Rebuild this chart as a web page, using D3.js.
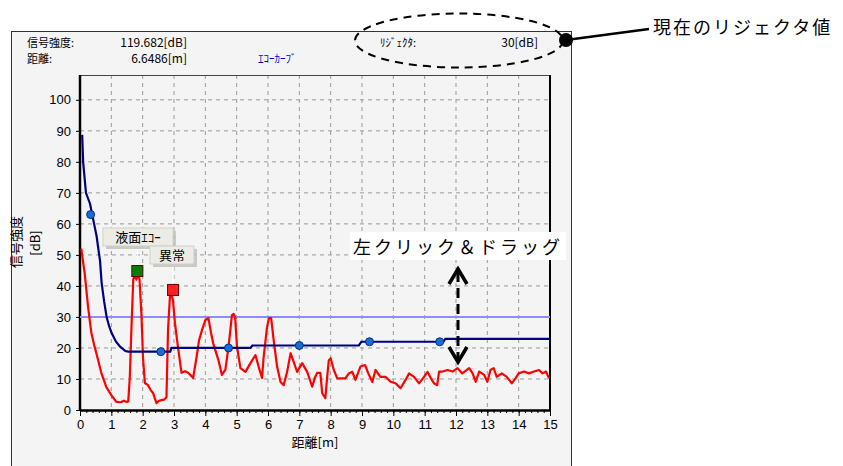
<!DOCTYPE html>
<html>
<head>
<meta charset="utf-8">
<script src="https://cdn.jsdelivr.net/npm/d3@7"></script>
<style>
  body { margin: 0; background: #fff; }
  svg { display: block; font-family: "Liberation Sans", Arial, sans-serif; }
  .jp { font-family: "Noto Sans CJK JP", sans-serif; }
</style>
</head>
<body>
<div id="chart"></div>
<script>
// エコーカーブ（信号強度 vs 距離）
const redX = [0.04, 0.15, 0.26, 0.36, 0.45, 0.52, 0.68, 0.84, 1.0, 1.16, 1.3, 1.4, 1.5, 1.54, 1.59, 1.64, 1.7, 1.75, 1.8, 1.86, 1.9, 1.96, 2.01, 2.07, 2.17, 2.25, 2.33, 2.44, 2.52, 2.6, 2.7, 2.76, 2.81, 2.87, 2.92, 2.97, 3.03, 3.13, 3.24, 3.35, 3.45, 3.55, 3.61, 3.72, 3.8, 3.9, 4.0, 4.1, 4.18, 4.25, 4.42, 4.53, 4.64, 4.74, 4.85, 4.9, 4.95, 5.01, 5.12, 5.28, 5.44, 5.6, 5.7, 5.81, 5.86, 5.97, 6.03, 6.1, 6.18, 6.29, 6.4, 6.5, 6.61, 6.72, 6.82, 6.93, 7.09, 7.25, 7.41, 7.5, 7.57, 7.67, 7.73, 7.83, 7.89, 7.94, 8.0, 8.1, 8.21, 8.35, 8.47, 8.58, 8.69, 8.79, 8.95, 9.1, 9.2, 9.33, 9.43, 9.59, 9.75, 9.91, 10.07, 10.23, 10.39, 10.5, 10.66, 10.82, 10.98, 11.09, 11.2, 11.3, 11.4, 11.46, 11.57, 11.73, 11.89, 12.05, 12.2, 12.42, 12.53, 12.63, 12.74, 12.9, 13.0, 13.1, 13.2, 13.3, 13.46, 13.62, 13.78, 13.9, 14.0, 14.17, 14.33, 14.49, 14.65, 14.76, 14.87, 14.97];
const redY = [52, 44, 33, 25, 21, 18.4, 12, 7.4, 4.8, 2.6, 2.5, 3, 2.6, 2.8, 10.7, 26, 42, 43.5, 42, 44, 42, 31, 17, 8.7, 8, 6.5, 5.5, 2.2, 3, 3.2, 3.4, 4.2, 26, 36.5, 37.5, 35, 28, 20, 12, 12.5, 12, 11, 10.3, 17, 22.5, 26, 29, 29.6, 25, 21.5, 16, 11.3, 13, 20.4, 30.6, 31, 30, 20.4, 13.5, 12.3, 15.1, 17.7, 14, 10.3, 17, 26.8, 29.6, 29.6, 22.6, 14, 9, 8, 12.3, 18.3, 15.5, 12.3, 15.1, 12.3, 7.5, 10.5, 12, 12, 5.4, 3.8, 10.8, 16, 16.7, 12.9, 10.2, 10.2, 10.2, 11.8, 12.3, 9.7, 14, 14.5, 11.8, 9, 12.9, 10.7, 10.7, 9.1, 8.6, 7, 9.7, 11.8, 10.7, 8.6, 10.7, 12.3, 10.2, 8.6, 8, 12.4, 12.4, 12.9, 12.4, 13.5, 11.8, 13.5, 11.8, 9.1, 12.4, 11.3, 9.1, 12.9, 13.5, 10.7, 11.8, 10.7, 8.6, 10.2, 11.8, 12.4, 11.8, 12.4, 12.9, 11.8, 12.4, 10.2];

// 判定カーブ（紺）
const navyX = [0.07, 0.1, 0.19, 0.32, 0.45, 0.53, 0.64, 0.69, 0.77, 0.85, 0.93, 1.01, 1.15, 1.28, 1.45, 1.54, 2.88, 2.92, 5.44, 5.5, 8.9, 8.98, 11.6, 11.66, 15];
const navyY = [88.7, 80, 70, 66.5, 60, 56, 48, 41, 35, 30, 27, 24.8, 22, 20.4, 19, 18.8, 18.8, 20, 20, 20.8, 20.8, 22, 22, 22.9, 22.9];
const nodeX = [0.34, 2.58, 4.74, 7.0, 9.24, 11.48];
const nodeY = [63, 18.8, 20, 20.8, 22, 22];

const rejector = 30;
const peakLabels = ['液面ｴｺｰ', '異常'];
const peakX = [1.83, 2.97];
const peakY = [44.8, 38.7];
const peakColors = ['#008000', '#ff2020'];

const xTicks = d3.range(0, 16, 1);
const yTicks = d3.range(0, 101, 10);

const W = 843, H = 466;
const svg = d3.select('#chart').append('svg').attr('width', W).attr('height', H);

const x = d3.scaleLinear().domain([0, 15]).range([80, 550]);
const y = d3.scaleLinear().domain([0, 108]).range([410, 75]);

// パネル
svg.append('rect')
    .attr('x', 11.5).attr('y', 31.5)
    .attr('width', 560).attr('height', 450)
    .attr('fill', '#f4f4f4')
    .attr('stroke', '#333');

// ヘッダー
const head = svg.append('g').attr('class', 'jp').style('font-size', '11px').attr('fill', '#000');
head.append('text').attr('x', 27).attr('y', 46.5).text('信号強度:');
head.append('text').attr('x', 187).attr('y', 46.5).attr('text-anchor', 'end').style('font-size', '12px').text('119.682[dB]');
head.append('text').attr('x', 27).attr('y', 63).text('距離:');
head.append('text').attr('x', 187).attr('y', 63).attr('text-anchor', 'end').style('font-size', '12px').text('6.6486[m]');
head.append('text').attr('x', 258).attr('y', 63).attr('fill', '#0000cc').text('ｴｺｰｶｰﾌﾞ');
head.append('text').attr('x', 380).attr('y', 46.5).text('ﾘｼﾞｪｸﾀ:');
head.append('text').attr('x', 538).attr('y', 46.5).attr('text-anchor', 'end').style('font-size', '12px').text(rejector + '[dB]');

// グリッド
const grid = svg.append('g')
    .attr('stroke', '#999')
    .attr('stroke-dasharray', '4,4');
grid.selectAll('.vg').data(xTicks.slice(1, -1)).join('line')
    .attr('x1', d => x(d)).attr('x2', d => x(d))
    .attr('y1', y.range()[1]).attr('y2', y(0));
grid.selectAll('.hg').data(yTicks.slice(1)).join('line')
    .attr('x1', x(0)).attr('x2', x(15))
    .attr('y1', d => y(d)).attr('y2', d => y(d));

// 枠
svg.append('line').attr('x1', x(0)).attr('x2', x(15)).attr('y1', 75.5).attr('y2', 75.5)
    .attr('stroke', '#444');
svg.append('line').attr('x1', x(15)).attr('x2', x(15)).attr('y1', 75).attr('y2', y(0))
    .attr('stroke', '#000').attr('stroke-width', 2);

// 軸
const xAxis = svg.append('g')
    .attr('transform', `translate(0,${y(0)})`)
    .call(d3.axisBottom(x).tickValues(xTicks).tickSize(6).tickSizeOuter(0).tickPadding(4));
svg.append('g')
    .attr('transform', `translate(0,${y(0)})`)
    .call(d3.axisBottom(x).tickValues(d3.range(0, 15.01, 0.2)).tickSize(3).tickFormat(''))
    .call(g => g.select('.domain').remove());
const yAxis = svg.append('g')
    .attr('transform', `translate(${x(0)},0)`)
    .call(d3.axisLeft(y).tickValues(yTicks).tickSize(4).tickSizeOuter(0).tickPadding(5));

[xAxis, yAxis].forEach(a => {
    a.select('.domain').attr('stroke-width', 2.5);
    a.selectAll('text').style('font-size', '13px').attr('fill', '#000');
});
yAxis.select('.domain').attr('d', `M0,75V${y(0) + 1}`);

svg.append('text').attr('class', 'jp')
    .attr('x', x(7.5)).attr('y', 447)
    .attr('text-anchor', 'middle').style('font-size', '13px')
    .text('距離[m]');
svg.append('text').attr('class', 'jp')
    .attr('transform', 'translate(21,242) rotate(-90)')
    .attr('text-anchor', 'middle').style('font-size', '13px')
    .text('信号強度');
svg.append('text').attr('class', 'jp')
    .attr('transform', 'translate(40,243) rotate(-90)')
    .attr('text-anchor', 'middle').style('font-size', '13px')
    .text('[dB]');

// リジェクタ線
svg.append('line')
    .attr('x1', x(0)).attr('x2', x(15))
    .attr('y1', y(rejector)).attr('y2', y(rejector))
    .attr('stroke', '#8c8cff').attr('stroke-width', 2);

// エコー波形
const redData = redX.map((d, i) => [d, redY[i]]);
svg.append('path')
    .datum(redData)
    .attr('d', d3.line().x(d => x(d[0])).y(d => y(d[1])))
    .attr('fill', 'none')
    .attr('stroke', '#ff0000')
    .attr('stroke-width', 2.2)
    .attr('stroke-linejoin', 'round');

const navyData = navyX.map((d, i) => [d, navyY[i]]);
svg.append('path')
    .datum(navyData)
    .attr('d', d3.line().x(d => x(d[0])).y(d => y(d[1])))
    .attr('fill', 'none')
    .attr('stroke', '#000080')
    .attr('stroke-width', 2.2);

svg.selectAll('.node').data(nodeX).join('circle')
    .attr('cx', d => x(d))
    .attr('cy', (d, i) => y(nodeY[i]))
    .attr('r', 4)
    .attr('fill', '#1a6ad8')
    .attr('stroke', '#00307a');

// ピークラベル
const labelBox = [
    { x: 103, y: 228, w: 70, h: 18 },
    { x: 150, y: 246, w: 44, h: 18 }
];
peakX.forEach((px, i) => {
    const b = labelBox[i];
    svg.append('line')
        .attr('x1', x(px)).attr('x2', x(px))
        .attr('y1', b.y + b.h).attr('y2', y(peakY[i]) - 5)
        .attr('stroke', '#fff').attr('stroke-width', 1.5);
    svg.append('rect')
        .attr('x', b.x + 3).attr('y', b.y + 3).attr('width', b.w).attr('height', b.h)
        .attr('fill', '#b8b8b0').attr('opacity', 0.7);
    svg.append('rect')
        .attr('x', b.x).attr('y', b.y).attr('width', b.w).attr('height', b.h)
        .attr('fill', '#ecece6').attr('stroke', '#d0d0c8');
    svg.append('text').attr('class', 'jp')
        .attr('x', b.x + b.w / 2).attr('y', b.y + 14)
        .attr('text-anchor', 'middle').style('font-size', '13px')
        .text(peakLabels[i]);
    svg.append('rect')
        .attr('x', x(px) - 5.5).attr('y', y(peakY[i]) - 5.5)
        .attr('width', 11).attr('height', 11)
        .attr('fill', peakColors[i]).attr('stroke', '#600');
});

// 注釈：現在のリジェクタ値
svg.append('ellipse')
    .attr('cx', 459).attr('cy', 40.5).attr('rx', 104).attr('ry', 27)
    .attr('fill', 'none').attr('stroke', '#000')
    .attr('stroke-width', 2).attr('stroke-dasharray', '8,6');
svg.append('line')
    .attr('x1', 566).attr('y1', 40).attr('x2', 649).attr('y2', 29)
    .attr('stroke', '#000').attr('stroke-width', 2.5);
svg.append('circle').attr('cx', 566).attr('cy', 40).attr('r', 7).attr('fill', '#000');
svg.append('text').attr('class', 'jp')
    .attr('x', 653).attr('y', 34)
    .style('font-size', '18px').style('letter-spacing', '2px')
    .text('現在のリジェクタ値');

// 注釈：左クリック＆ドラッグ
svg.append('rect').attr('x', 350).attr('y', 232).attr('width', 216).attr('height', 28).attr('fill', '#fff');
svg.append('text').attr('class', 'jp')
    .attr('x', 353).attr('y', 254)
    .style('font-size', '18px').style('letter-spacing', '3px')
    .text('左クリック＆ドラッグ');
const ax = 458;
svg.append('line')
    .attr('x1', ax).attr('x2', ax).attr('y1', 272).attr('y2', 358)
    .attr('stroke', '#000').attr('stroke-width', 3).attr('stroke-dasharray', '10,6');
svg.append('path')
    .attr('d', `M${ax - 9},${284}L${ax},${269}L${ax + 9},${284}`)
    .attr('fill', 'none').attr('stroke', '#000').attr('stroke-width', 3.5);
svg.append('path')
    .attr('d', `M${ax - 9},${347}L${ax},${362}L${ax + 9},${347}`)
    .attr('fill', 'none').attr('stroke', '#000').attr('stroke-width', 3.5);
</script>
</body>
</html>
